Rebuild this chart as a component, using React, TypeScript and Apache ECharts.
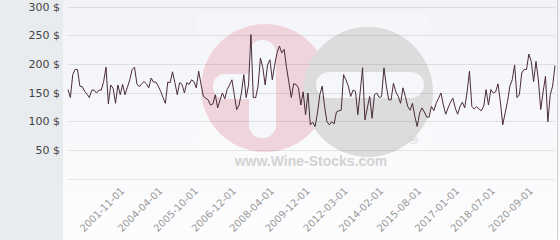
import React, { useEffect, useRef } from "react";
import * as echarts from "echarts";

// Prices, split in segments (left to right)
const prices1 = [156, 142, 182, 191, 191, 162, 161, 153, 148, 142, 155, 155, 150, 155, 155, 170, 195, 131, 164, 158, 132, 164, 147, 165, 147, 160, 173, 191, 195, 166, 161, 166, 170, 166];
const prices2 = [159, 176, 169, 169, 162, 153, 142, 132, 169, 168, 187, 168, 147, 168, 165, 150, 168, 165, 173, 170, 159, 188, 165, 144, 141, 138, 129, 131, 147, 124, 138, 150, 140, 156, 164];
const prices3 = [173, 147, 121, 129, 150, 182, 142, 164, 252, 142, 142, 162, 211, 194, 164, 199, 208, 173, 199, 220, 232, 220, 226, 194, 168, 142, 166, 165, 159, 129, 152, 112, 150];
const prices4 = [94.5, 99, 91.5, 115, 147, 162, 126.5, 100, 94.5, 100, 96, 117, 119, 120, 182, 173, 162, 144, 155, 153, 112, 152, 194, 103, 124, 144, 106, 147, 150, 142, 144, 194, 162, 138, 138];
const prices5 = [167, 152, 144, 132, 159, 144, 126.5, 120, 132, 109, 91.5, 115, 124, 117, 108, 108, 126.5, 119, 132, 141, 150, 129, 113, 124, 134, 141, 124, 113, 126.5, 134, 124, 152, 188, 126.5];
const prices6 = [122, 126, 122, 119, 127, 156, 129, 156, 150, 152, 166, 135, 94.5, 115, 135, 162, 173, 199, 142, 147, 185, 191, 191, 218, 205, 170, 205, 173, 121, 152, 179, 100, 147, 162, 198];

const tickLabels = ["2001-11-01", "2004-04-01", "2005-10-01", "2006-12-01", "2008-04-01", "2009-12-01", "2012-03-01", "2014-02-01", "2015-08-01", "2017-01-01", "2018-07-01", "2020-09-01"];
const tickIndices = [23, 39, 54, 70, 86, 101, 117, 132, 148, 164, 179, 195];

const yMin = 0;
const yMax = 300;
const yStep = 50;

export default function App() {
  const ref = useRef<HTMLDivElement>(null);
  useEffect(() => {
    if (!ref.current) return;
    const chart = echarts.init(ref.current, null, { renderer: "svg" });
    const values = [...prices1, ...prices2, ...prices3, ...prices4, ...prices5, ...prices6];
    const categories = values.map((_, i) => {
      const k = tickIndices.indexOf(i);
      return k >= 0 ? tickLabels[k] : "p" + i;
    });
    chart.setOption({
      animation: false,
      backgroundColor: "transparent",
      grid: { left: 68, right: 5, top: 7, bottom: 61, containLabel: false },
      graphic: [
        { type: "rect", z: -5, silent: true, shape: { x: 197, y: 12, width: 232, height: 162 }, style: { fill: "rgba(255,255,255,0.18)" } },
        { type: "circle", z: -4, silent: true, shape: { cx: 265, cy: 88, r: 64 }, style: { fill: "#efd4db" } },
        { type: "circle", z: -4, silent: true, shape: { cx: 368, cy: 92, r: 65 }, style: { fill: "#dcdcdd" } },
        { type: "rect", z: -3, silent: true, shape: { x: 249, y: 40, width: 27, height: 98, r: 13 }, style: { fill: "#f6f7fa" } },
        { type: "rect", z: -3, silent: true, shape: { x: 213, y: 74, width: 50, height: 25, r: 12 }, style: { fill: "#f6f7fa" } },
        { type: "rect", z: -3, silent: true, shape: { x: 316, y: 72, width: 108, height: 26, r: 13 }, style: { fill: "#f6f7fa" } },
        { type: "text", z: -3, silent: true, x: 311, y: 161, style: { text: "www.Wine-Stocks.com", fill: "#d3d3d3", font: "bold 14px 'Liberation Sans'", align: "center", verticalAlign: "middle" } },
        { type: "text", z: -3, silent: true, x: 413, y: 139, style: { text: "®", fill: "#d3d3d3", font: "13px 'DejaVu Sans'", align: "center", verticalAlign: "middle" } }
      ],
      xAxis: {
        type: "category",
        data: categories,
        boundaryGap: false,
        axisLine: { show: false },
        axisTick: { show: false },
        splitLine: { show: false },
        axisLabel: {
          interval: (i: number) => tickIndices.includes(i),
          rotate: 45,
          margin: 10,
          color: "#999999",
          fontSize: 10,
          fontFamily: "DejaVu Sans"
        }
      },
      yAxis: {
        type: "value",
        min: yMin,
        max: yMax,
        interval: yStep,
        axisLine: { show: false },
        axisTick: { show: false },
        splitLine: { lineStyle: { color: "rgba(0,0,0,0.09)", width: 1 } },
        axisLabel: {
          formatter: (v: number) => (v === 0 ? "" : `${v} $`),
          color: "#444444",
          fontSize: 11,
          fontFamily: "DejaVu Sans",
          margin: 8
        }
      },
      series: [
        {
          type: "line",
          data: values,
          symbol: "none",
          lineStyle: { color: "#4a2b3a", width: 1 }
        }
      ]
    });
    return () => chart.dispose();
  }, []);
  return (
    <div
      ref={ref}
      style={{
        position: "fixed",
        left: 0,
        top: 0,
        width: 560,
        height: 240,
        background:
          "linear-gradient(to right, #e8ecef 0px, #e8ecef 63px, transparent 63px, transparent 557px, #cfcfcf 557px, #cfcfcf 558px, transparent 558px), linear-gradient(to bottom, #f2f3f8, #fdfdfe)"
      }}
    />
  );
}
